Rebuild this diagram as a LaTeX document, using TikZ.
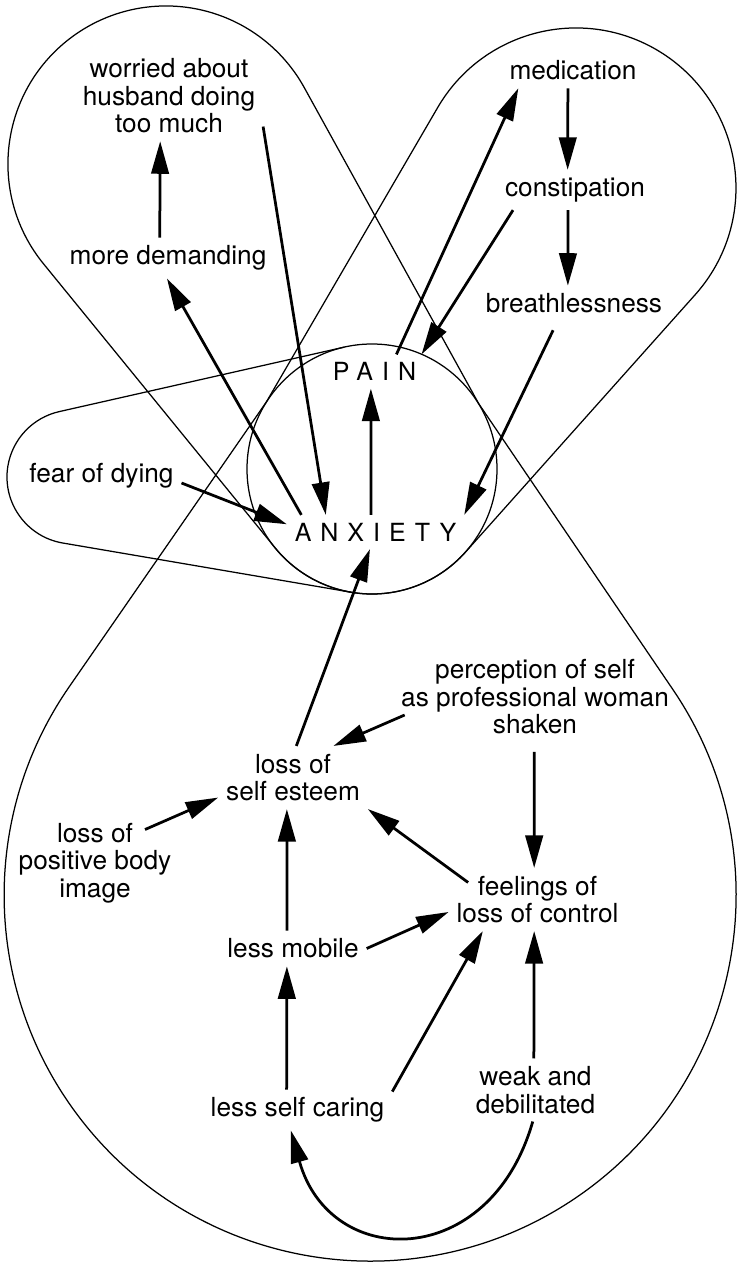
\documentclass[tikz,border=0pt]{standalone}
\usepackage{fontspec}
\setmainfont{TeX Gyre Heros}
\newfontfamily\capsfont[LetterSpace=36]{TeX Gyre Heros}
\usetikzlibrary{arrows.meta}

\begin{document}
\begin{tikzpicture}[x=0.4pt,y=-0.4pt,
    contorno/.style={line width=0.5pt},
    txt/.style={inner sep=3pt,align=center,font=\fontsize{10.5}{11}\selectfont},
    caps/.style={inner sep=3pt,font=\capsfont\fontsize{10}{11}\selectfont},
    flecha/.style={line width=1.1pt,-{Triangle[length=13pt,width=7pt]}}]
\useasboundingbox (0,0) rectangle (736,1265);
\def\rK{125}
    %Contornos
    \draw[contorno] (372,469) circle[radius=\rK];
    \draw[contorno] (43.5,263.8) arc[start angle=140.8,end angle=331.1,radius=158]
        -- (478.6,403.5) -- (672.8,689.4)
        arc[start angle=-34.2,end angle=214.7,radius=366]
        -- (266.4,401.9) -- (437.7,107.5)
        arc[start angle=210.2,end angle=401.8,radius=160]
        -- (465.3,552.3) arc[start angle=41.8,end angle=140.8,radius=\rK] -- cycle;
    \draw[contorno] (351,592.2) -- (62.7,543)
        arc[start angle=99.7,end angle=257.25,radius=67] -- (344.4,347.1);

    %Nodos
    \node[txt] (worried) at (169,96) {worried about\\husband doing\\too much};
    \node[txt] (demanding) at (168,258) {more demanding};
    \node[txt] (medication) at (573,70.5) {medication};
    \node[txt] (constipation) at (575,190) {constipation};
    \node[txt] (breath) at (574,303.5) {breathlessness};
    \node[caps] (pain) at (374.5,371.5) {PAIN};
    \node[caps] (anx) at (375.5,532) {ANXIETY};
    \node[txt] (fear) at (101.5,476) {fear of dying};
    \node[txt] (percep) at (535,697) {perception of self\\as professional woman\\shaken};
    \node[txt] (esteem) at (293,777.5) {loss of\\self esteem};
    \node[txt] (body) at (95,863) {loss of\\positive body\\image};
    \node[txt] (feelings) at (537.5,899.5) {feelings of\\loss of control};
    \node[txt] (mobile) at (293,948.5) {less mobile};
    \node[txt] (caring) at (297.5,1110) {less self caring};
    \node[txt] (weak) at (535.5,1090) {weak and\\debilitated};

    %Flechas
    \draw[flecha] (demanding.112) -- (worried.259);
    \draw[flecha] (worried.-18) -- (anx.161);
    \draw[flecha] (anx.167) -- (demanding.267);
    \draw[flecha] (fear.355) -- (anx.175);
    \draw[flecha] (anx.105) -- (pain.258);
    \draw[flecha] (pain.38) -- (medication.198);
    \draw[flecha] (constipation.198) -- (pain.20);
    \draw[flecha] (medication.254) -- (constipation.110);
    \draw[flecha] (constipation.251) -- (breath.109);
    \draw[flecha,shorten <=4pt] (breath.227) -- (anx.north east);
    \draw[flecha] (esteem.84) -- (anx.252);
    \draw[flecha] ([xshift=4.6pt,yshift=-7.2pt]percep.west) -- (esteem.38);
    \draw[flecha] ([xshift=20pt,yshift=-5.8pt]body.north) -- (esteem.195);
    \draw[flecha] ([xshift=7.8pt,yshift=-5.8pt]feelings.north west) -- (esteem.south east);
    \draw[flecha,shorten <=3.8pt] (percep.269) -- (feelings.96);
    \draw[flecha] (mobile.109) -- (esteem.259);
    \draw[flecha] (mobile.east) -- (feelings.188);
    \draw[flecha] (caring.118) -- (mobile.251);
    \draw[flecha] (caring.11) -- (feelings.210);
    \draw[flecha] (weak.93) -- (feelings.264);
    \draw[flecha] (weak.265) .. controls +(-43,150) and +(39,140) .. (caring.252);
\end{tikzpicture}
\end{document}
